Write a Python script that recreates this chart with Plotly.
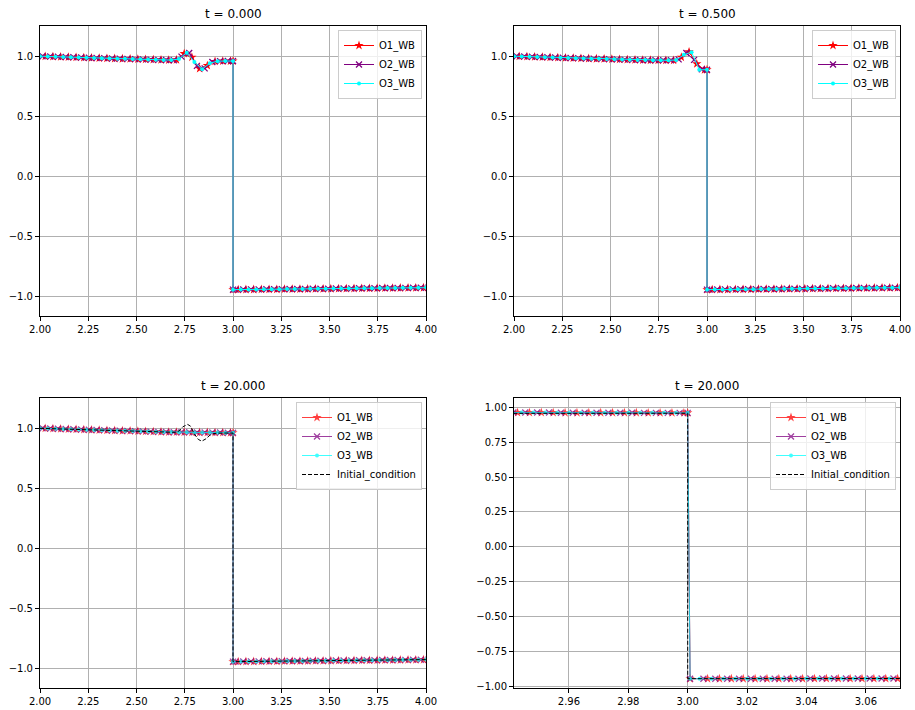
import numpy as np
import plotly.graph_objects as go

# ---------------------------------------------------------------------------
# Sample grids (each scheme is sampled with its own offset so markers interleave)
# ---------------------------------------------------------------------------
def grid(start, n, step):
    return np.round(start + step * np.arange(n), 4)

# left state: 26 samples + the interface x = 3.0 ; right state: interface + 26 samples
o1_left_x = np.append(grid(1.987, 26, 0.04), 3.0)
o2_left_x = np.append(grid(1.973, 26, 0.04), 3.0)
o3_left_x = np.append(grid(1.960, 26, 0.04), 3.0)
o1_right_x = np.insert(grid(3.027, 26, 0.04), 0, 3.0)
o2_right_x = np.insert(grid(3.013, 26, 0.04), 0, 3.0)
o3_right_x = np.insert(grid(3.040, 26, 0.04), 0, 3.0)

# ---------------------------------------------------------------------------
# Solution values, left of the interface
# ---------------------------------------------------------------------------
t0_o1_left = [0.999, 0.997, 0.995, 0.993, 0.991, 0.989, 0.987, 0.985, 0.983, 0.981,
              0.979, 0.977, 0.976, 0.974, 0.972, 0.970, 0.968, 0.966, 0.968, 1.020,
              0.990, 0.895, 0.920, 0.955, 0.958, 0.958, 0.958]
t0_o2_left = [0.999, 0.998, 0.996, 0.994, 0.992, 0.990, 0.988, 0.986, 0.984, 0.982,
              0.979, 0.978, 0.976, 0.974, 0.972, 0.970, 0.968, 0.967, 0.965, 0.995,
              1.025, 0.918, 0.897, 0.950, 0.957, 0.958, 0.958]
t0_o3_left = [1.000, 0.998, 0.996, 0.994, 0.992, 0.990, 0.988, 0.986, 0.984, 0.982,
              0.980, 0.978, 0.977, 0.975, 0.973, 0.971, 0.969, 0.967, 0.966, 0.975,
              1.028, 0.950, 0.890, 0.940, 0.957, 0.958, 0.958]

t05_o1_left = [0.999, 0.997, 0.995, 0.993, 0.991, 0.989, 0.987, 0.985, 0.983, 0.981,
               0.979, 0.977, 0.976, 0.974, 0.972, 0.970, 0.968, 0.966, 0.965, 0.965,
               0.964, 0.964, 0.990, 1.035, 0.935, 0.885, 0.886]
t05_o2_left = [0.999, 0.998, 0.996, 0.994, 0.992, 0.990, 0.988, 0.986, 0.984, 0.982,
               0.979, 0.978, 0.976, 0.974, 0.972, 0.970, 0.968, 0.967, 0.965, 0.965,
               0.964, 0.964, 0.972, 1.025, 0.968, 0.890, 0.886]
t05_o3_left = [1.000, 0.998, 0.996, 0.994, 0.992, 0.990, 0.988, 0.986, 0.984, 0.982,
               0.980, 0.978, 0.977, 0.975, 0.973, 0.971, 0.969, 0.967, 0.966, 0.965,
               0.964, 0.964, 0.967, 1.010, 1.032, 0.885, 0.886]

t20_o1_left = [0.999, 0.997, 0.995, 0.993, 0.991, 0.989, 0.987, 0.985, 0.983, 0.981,
               0.979, 0.977, 0.976, 0.974, 0.972, 0.970, 0.968, 0.966, 0.966, 0.965,
               0.964, 0.963, 0.963, 0.962, 0.962, 0.961, 0.961]
t20_o2_left = [0.999, 0.998, 0.996, 0.994, 0.992, 0.990, 0.988, 0.986, 0.984, 0.982,
               0.979, 0.978, 0.976, 0.974, 0.972, 0.970, 0.968, 0.967, 0.965, 0.965,
               0.964, 0.963, 0.963, 0.962, 0.962, 0.961, 0.961]
t20_o3_left = [1.000, 0.998, 0.996, 0.994, 0.992, 0.990, 0.988, 0.986, 0.984, 0.982,
               0.980, 0.978, 0.977, 0.975, 0.973, 0.971, 0.969, 0.967, 0.966, 0.965,
               0.964, 0.963, 0.963, 0.962, 0.962, 0.961, 0.961]

# right state (unchanged over time)
o1_right = [-0.947, -0.947, -0.946, -0.946, -0.945, -0.944, -0.944, -0.943, -0.942, -0.942,
            -0.941, -0.940, -0.940, -0.939, -0.938, -0.938, -0.937, -0.936, -0.936, -0.935,
            -0.934, -0.934, -0.933, -0.932, -0.932, -0.931, -0.930]
o2_right = [-0.947, -0.947, -0.946, -0.945, -0.945, -0.944, -0.943, -0.943, -0.942, -0.941,
            -0.941, -0.940, -0.939, -0.939, -0.938, -0.937, -0.937, -0.936, -0.935, -0.935,
            -0.934, -0.933, -0.933, -0.932, -0.931, -0.931, -0.930]
o3_right = [-0.947, -0.946, -0.946, -0.945, -0.944, -0.944, -0.943, -0.942, -0.942, -0.941,
            -0.940, -0.940, -0.939, -0.938, -0.938, -0.937, -0.936, -0.936, -0.935, -0.934,
            -0.934, -0.933, -0.932, -0.932, -0.931, -0.930, -0.930]

# initial condition (perturbed steady state)
ic_x = [2.0, 2.70, 2.72, 2.74, 2.765, 2.78, 2.80, 2.82, 2.838, 2.86, 2.88, 2.90, 2.92,
        3.0, 3.0, 4.0]
ic_y = [0.997, 0.964, 0.975, 1.010, 1.030, 1.015, 0.950, 0.905, 0.890, 0.910, 0.940,
        0.953, 0.957, 0.958, -0.947, -0.930]

# ---------------------------------------------------------------------------
# t = 20, close-up of the interface (denser sampling)
# ---------------------------------------------------------------------------
zoom_o1_left_x = np.append(grid(2.9427, 15, 0.004), 3.0)
zoom_o2_left_x = np.append(grid(2.9413, 15, 0.004), 3.0)
zoom_o3_left_x = np.append(grid(2.9400, 15, 0.004), 3.0)
zoom_o1_right_x = np.insert(grid(3.0067, 18, 0.004), 0, 3.0008)
zoom_o2_right_x = np.insert(grid(3.0053, 18, 0.004), 0, 3.0008)
zoom_o3_right_x = np.insert(grid(3.0040, 18, 0.004), 0, 3.0008)

zoom_o1_left = [0.963, 0.963, 0.963, 0.963, 0.962, 0.962, 0.962, 0.962, 0.962, 0.962,
                0.962, 0.961, 0.961, 0.961, 0.961, 0.961]
zoom_o2_left = [0.963, 0.963, 0.963, 0.963, 0.962, 0.962, 0.962, 0.962, 0.962, 0.962,
                0.962, 0.961, 0.961, 0.961, 0.961, 0.961]
zoom_o3_left = [0.963, 0.963, 0.963, 0.963, 0.962, 0.962, 0.962, 0.962, 0.962, 0.962,
                0.962, 0.961, 0.961, 0.961, 0.961, 0.961]
zoom_o1_right = [-0.947, -0.947, -0.947, -0.947, -0.947, -0.947, -0.947, -0.947, -0.947, -0.947,
                 -0.946, -0.946, -0.946, -0.946, -0.946, -0.946, -0.946, -0.946, -0.946]
zoom_o2_right = [-0.947, -0.947, -0.947, -0.947, -0.947, -0.947, -0.947, -0.947, -0.947, -0.947,
                 -0.946, -0.946, -0.946, -0.946, -0.946, -0.946, -0.946, -0.946, -0.946]
zoom_o3_right = [-0.947, -0.947, -0.947, -0.947, -0.947, -0.947, -0.947, -0.947, -0.947, -0.947,
                 -0.946, -0.946, -0.946, -0.946, -0.946, -0.946, -0.946, -0.946, -0.946]

titles = ["t = 0.000", "t = 0.500", "t = 20.000", "t = 20.000"]
names = ["O1_WB", "O2_WB", "O3_WB"]

# ---------------------------------------------------------------------------
W, H = 915, 710
FONT = "DejaVu Sans"

styles = {
    "O1_WB": dict(line=dict(color="#ff0000", width=1),
                  marker=dict(symbol="star", size=7, color="#ff0000", line=dict(width=0))),
    "O2_WB": dict(line=dict(color="#800080", width=1),
                  marker=dict(symbol="x-thin", size=6, color="#800080",
                              line=dict(width=1.3, color="#800080"))),
    "O3_WB": dict(line=dict(color="#00ffff", width=1),
                  marker=dict(symbol="circle", size=4, color="#00ffff", line=dict(width=0))),
}

panels = [
    # (axis suffix, legend id, series, show IC, opacity)
    ("", "legend",
     [(np.concatenate([o1_left_x, o1_right_x]), t0_o1_left + o1_right),
      (np.concatenate([o2_left_x, o2_right_x]), t0_o2_left + o2_right),
      (np.concatenate([o3_left_x, o3_right_x]), t0_o3_left + o3_right)], False, 1.0),
    ("2", "legend2",
     [(np.concatenate([o1_left_x, o1_right_x]), t05_o1_left + o1_right),
      (np.concatenate([o2_left_x, o2_right_x]), t05_o2_left + o2_right),
      (np.concatenate([o3_left_x, o3_right_x]), t05_o3_left + o3_right)], False, 1.0),
    ("3", "legend3",
     [(np.concatenate([o1_left_x, o1_right_x]), t20_o1_left + o1_right),
      (np.concatenate([o2_left_x, o2_right_x]), t20_o2_left + o2_right),
      (np.concatenate([o3_left_x, o3_right_x]), t20_o3_left + o3_right)], True, 0.75),
    ("4", "legend4",
     [(np.concatenate([zoom_o1_left_x, zoom_o1_right_x]), zoom_o1_left + zoom_o1_right),
      (np.concatenate([zoom_o2_left_x, zoom_o2_right_x]), zoom_o2_left + zoom_o2_right),
      (np.concatenate([zoom_o3_left_x, zoom_o3_right_x]), zoom_o3_left + zoom_o3_right)], True, 0.75),
]

fig = go.Figure()
for suffix, leg, series, show_ic, op in panels:
    for name, (xs, ys) in zip(names, series):
        fig.add_trace(go.Scatter(
            x=xs, y=ys, mode="lines+markers", name=name, opacity=op,
            xaxis="x" + suffix, yaxis="y" + suffix, legend=leg,
            **styles[name]))
    if show_ic:
        fig.add_trace(go.Scatter(
            x=ic_x, y=ic_y, mode="lines", name="Initial_condition",
            line=dict(color="black", width=1, dash="4px,2px"),
            xaxis="x" + suffix, yaxis="y" + suffix, legend=leg))

# ---------------------------------------------------------------------------
# Axes
# ---------------------------------------------------------------------------
def px_x(a, b):
    return [a / W, b / W]

def px_y(top, bottom):
    return [1 - bottom / H, 1 - top / H]

common = dict(showline=True, linecolor="black", linewidth=1, mirror=True,
              ticks="outside", ticklen=4, tickwidth=1, tickcolor="black",
              showgrid=True, gridcolor="#b0b0b0", gridwidth=1, zeroline=False,
              automargin=False,
              tickfont=dict(family=FONT, size=10, color="black"))

xl, xr = px_x(40, 426), px_x(514, 900)
yt, yb = px_y(26, 316), px_y(398, 688)
wide_x = dict(range=[2.0, 4.0], tickmode="linear", tick0=2.0, dtick=0.25, tickformat=".2f")
wide_y = dict(range=[-1.1667, 1.25], tickmode="linear", tick0=-1.0, dtick=0.5, tickformat=".1f")

fig.update_layout(
    xaxis=dict(domain=xl, anchor="y", **wide_x, **common),
    yaxis=dict(domain=yt, anchor="x", **wide_y, **common),
    xaxis2=dict(domain=xr, anchor="y2", **wide_x, **common),
    yaxis2=dict(domain=yt, anchor="x2", **wide_y, **common),
    xaxis3=dict(domain=xl, anchor="y3", **wide_x, **common),
    yaxis3=dict(domain=yb, anchor="x3", **wide_y, **common),
    xaxis4=dict(domain=xr, anchor="y4", range=[2.9415, 3.0715], tickmode="linear",
                tick0=2.96, dtick=0.02, tickformat=".2f", **common),
    yaxis4=dict(domain=yb, anchor="x4", range=[-1.014, 1.0675], tickmode="linear",
                tick0=-1.0, dtick=0.25, tickformat=".2f", **common),
)

# ---------------------------------------------------------------------------
# Legends, one per panel
# ---------------------------------------------------------------------------
def legend_at(right_px, top_px):
    return dict(x=right_px / W, y=1 - top_px / H, xanchor="right", yanchor="top",
                bgcolor="rgba(255,255,255,0.8)", bordercolor="#cccccc", borderwidth=1,
                font=dict(family=FONT, size=10, color="black"),
                itemwidth=30, tracegroupgap=0)

fig.update_layout(
    legend=legend_at(422, 30),
    legend2=legend_at(896, 30),
    legend3=legend_at(422, 402),
    legend4=legend_at(896, 402),
)

# ---------------------------------------------------------------------------
# Panel titles
# ---------------------------------------------------------------------------
centers = [(233, 14), (707, 14), (233, 386), (707, 386)]
for text, (cx, cy) in zip(titles, centers):
    fig.add_annotation(text=text, x=cx / W, y=1 - cy / H, xref="paper", yref="paper",
                       xanchor="center", yanchor="middle", showarrow=False,
                       font=dict(family=FONT, size=12, color="black"))

fig.update_layout(width=W, height=H,
                  margin=dict(l=0, r=0, t=0, b=0, pad=0, autoexpand=False),
                  paper_bgcolor="white", plot_bgcolor="white", showlegend=True)

fig.write_html("out.html")
